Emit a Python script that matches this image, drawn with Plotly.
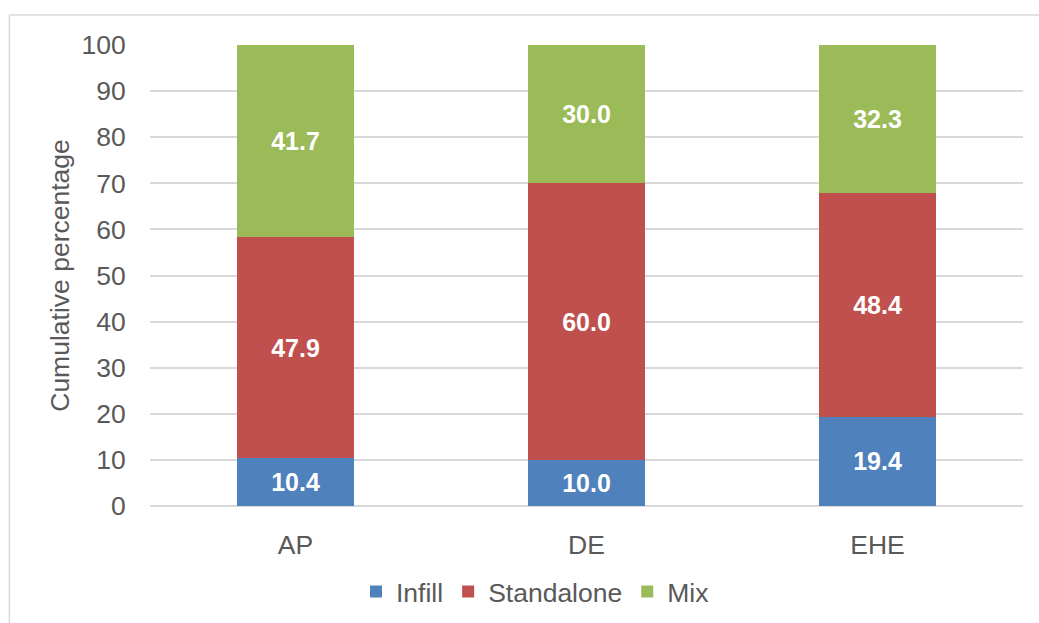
import plotly.graph_objects as go

categories = ["AP", "DE", "EHE"]
infill = [10.4, 10.0, 19.4]
standalone = [47.9, 60.0, 48.4]
mix = [41.7, 30.0, 32.3]
y_ticks = [0, 10, 20, 30, 40, 50, 60, 70, 80, 90, 100]

FONT = "Liberation Sans, Arial, sans-serif"
GRAY = "#595959"
FS = 26.5

fig = go.Figure()
for name, vals, color in [("Infill", infill, "#4F81BD"),
                          ("Standalone", standalone, "#C0504D"),
                          ("Mix", mix, "#9BBB59")]:
    fig.add_trace(go.Bar(
        x=categories, y=vals, name=name, marker=dict(color=color, line=dict(width=0)),
        texttemplate="%{y:.1f}", textposition="inside", insidetextanchor="middle",
        textfont=dict(family=FONT, size=25, color="white", weight="bold"),
        constraintext="none",
    ))

fig.update_layout(
    barmode="stack", bargap=0.6,
    width=1039, height=623,
    margin=dict(l=150, r=16, t=45, b=117, autoexpand=False),
    paper_bgcolor="white", plot_bgcolor="white",
    font=dict(family=FONT, size=FS, color=GRAY),
    showlegend=True,
    legend=dict(orientation="h", x=0.441, xanchor="center", y=-0.186, yanchor="middle",
                font=dict(size=FS, color=GRAY), traceorder="normal"),
    xaxis=dict(showgrid=False, showline=False, ticks="outside", ticklen=15,
               tickcolor="rgba(0,0,0,0)", tickfont=dict(size=FS, color=GRAY)),
    yaxis=dict(range=[0, 100], tickvals=y_ticks, showgrid=True, gridcolor="#D9D9D9",
               gridwidth=1.5, zeroline=True, zerolinecolor="#D9D9D9", zerolinewidth=1.5,
               ticks="outside", ticklen=18, tickcolor="rgba(0,0,0,0)",
               tickfont=dict(size=FS, color=GRAY),
               title=dict(text="Cumulative percentage", font=dict(size=FS, color=GRAY), standoff=4)),
    shapes=[dict(type="rect", xref="paper", yref="paper",
                 x0=-0.161, x1=1.04, y0=-0.3, y1=1.065,
                 line=dict(color="#D9D9D9", width=1.5), layer="below")],
)

fig.write_html("out.html")
